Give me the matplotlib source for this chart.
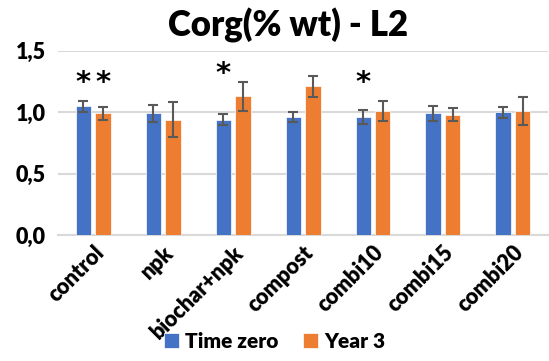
import numpy as np
import matplotlib.pyplot as plt
from matplotlib.ticker import FuncFormatter

plt.rcParams['font.family'] = ['Lato', 'DejaVu Sans']

treatments = ["control", "npk", "biochar+npk", "compost", "combi10", "combi15", "combi20"]
time_zero = [1.05, 0.99, 0.94, 0.96, 0.96, 0.99, 1.00]
time_zero_err = [0.045, 0.07, 0.047, 0.042, 0.057, 0.062, 0.044]
year3 = [0.99, 0.94, 1.13, 1.21, 1.01, 0.98, 1.01]
year3_err = [0.055, 0.14, 0.12, 0.085, 0.083, 0.052, 0.114]
# significance marks: (category index, bar offset sign, height)
stars = [(0, -1, 1.265), (0, 1, 1.265), (2, -1, 1.335), (4, -1, 1.265)]

fig = plt.figure(figsize=(5.49, 3.61), dpi=100)
ax = fig.add_axes([0.106, 0.349, 0.892, 0.51])

x = np.arange(len(treatments))
w = 0.22
off = 0.14
err_kw = dict(ecolor="#595959", elinewidth=1.5, capsize=3.3, capthick=1.5)
ax.bar(x - off, time_zero, w, yerr=time_zero_err, color="#4472C4",
       edgecolor="white", linewidth=0.5, error_kw=err_kw, label="Time zero", zorder=3)
ax.bar(x + off, year3, w, yerr=year3_err, color="#ED7D31",
       edgecolor="white", linewidth=0.5, error_kw=err_kw, label="Year 3", zorder=3)

for i, sgn, h in stars:
    ax.text(i + sgn * off, h, "*", ha="center", va="center_baseline", fontsize=21,
            fontweight="bold", color="black", family="DejaVu Sans")

ax.set_xlim(-0.5, len(treatments) - 0.5)
ax.set_ylim(0, 1.5)
ax.set_yticks([0, 0.5, 1.0, 1.5])
ax.yaxis.set_major_formatter(FuncFormatter(lambda v, p: f"{v:.1f}".replace(".", ",")))
ax.grid(axis="y", color="#d9d9d9", linewidth=1.5, zorder=0)
for s in ["top", "right", "left"]:
    ax.spines[s].set_visible(False)
ax.spines["bottom"].set_color("#d9d9d9")
ax.spines["bottom"].set_linewidth(1.5)
ax.tick_params(length=0)
ax.set_xticks(x)
ax.set_xticklabels(treatments, rotation=45, ha="right", rotation_mode="anchor",
                   fontweight="heavy", fontsize=15.5)
for t in ax.get_yticklabels():
    t.set_fontweight("heavy")
    t.set_fontsize(15.5)
ax.tick_params(axis="y", pad=9)
ax.tick_params(axis="x", pad=5)

fig.text(0.524, 0.898, "Corg(% wt) - L2", ha="center", va="baseline",
         fontsize=25, fontweight="heavy")
fig.legend(loc="center", bbox_to_anchor=(0.5, 0.055), ncol=2, frameon=False,
           prop={"weight": "heavy", "size": 15}, handlelength=0.7, handleheight=0.7,
           handletextpad=0.3, columnspacing=1.2)

fig.savefig("out.png", dpi=100)
